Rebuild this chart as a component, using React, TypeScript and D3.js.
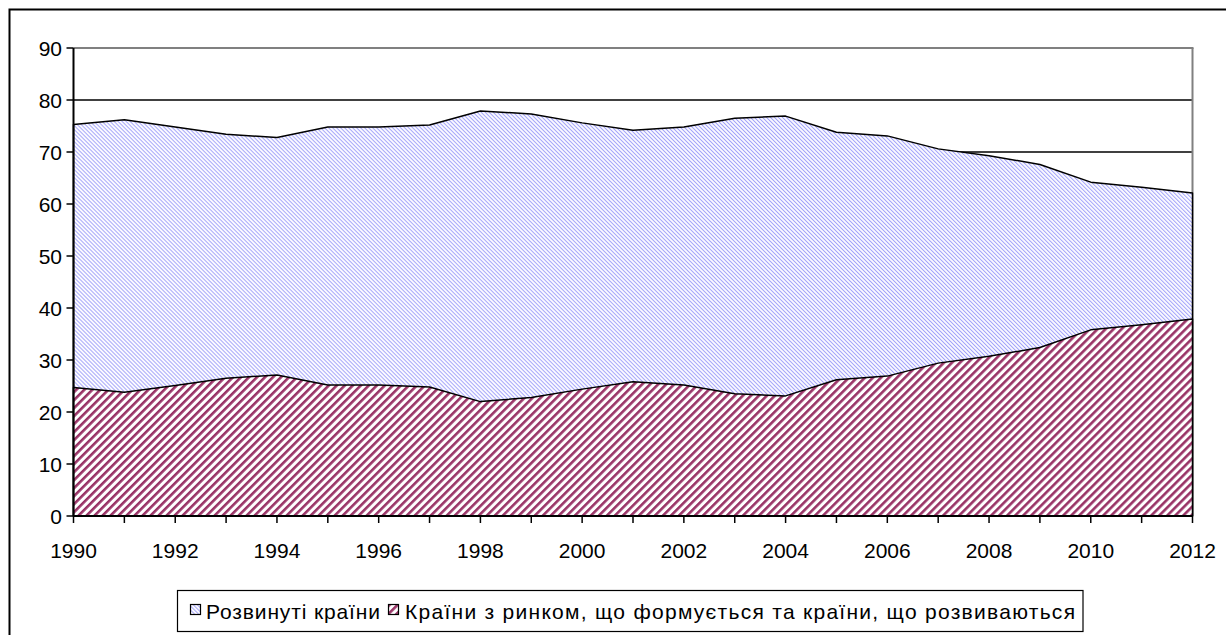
import React from "react";
import * as d3 from "d3";

const years = [1990, 1991, 1992, 1993, 1994, 1995, 1996, 1997, 1998, 1999, 2000, 2001, 2002, 2003, 2004, 2005, 2006, 2007, 2008, 2009, 2010, 2011, 2012];
const developed = [75.3, 76.2, 74.8, 73.4, 72.8, 74.8, 74.8, 75.2, 77.9, 77.3, 75.6, 74.2, 74.8, 76.5, 76.9, 73.8, 73.1, 70.6, 69.3, 67.6, 64.2, 63.2, 62.1];
const emerging = [24.7, 23.8, 25.1, 26.5, 27.1, 25.2, 25.2, 24.8, 22.0, 22.8, 24.4, 25.8, 25.2, 23.5, 23.1, 26.2, 26.9, 29.4, 30.7, 32.4, 35.8, 36.8, 37.9];
const yTicks = [0, 10, 20, 30, 40, 50, 60, 70, 80, 90];
const xTickLabels = [1990, 1992, 1994, 1996, 1998, 2000, 2002, 2004, 2006, 2008, 2010, 2012];
const seriesNames = ["Розвинуті країни", "Країни з ринком, що формується та країни, що розвиваються"];

const FONT = "'Liberation Sans', Arial, sans-serif";

export default function App() {
  const W = 1226, H = 635;
  const x = d3.scaleLinear().domain([1990, 2012]).range([73.5, 1192.5]);
  const y = d3.scaleLinear().domain([0, 90]).range([516, 48]);

  const devPath = d3.area<number>().x((_, i) => x(years[i])).y0(y(0)).y1((d) => y(d))(developed) as string;
  const emPath = d3.area<number>().x((_, i) => x(years[i])).y0(y(0)).y1((d) => y(d))(emerging) as string;

  return (
    <svg width={W} height={H} style={{ display: "block", position: "absolute", left: 0, top: 0, background: "#fff" }}>
      <defs>
        <pattern id="pDev" patternUnits="userSpaceOnUse" width={2.83} height={10} patternTransform="rotate(-45)">
          <rect width={2.83} height={10} fill="#fff" />
          <rect x={0} width={1.05} height={10} fill="#a4a4fa" />
        </pattern>
        <pattern id="pEm" patternUnits="userSpaceOnUse" width={5.66} height={10} patternTransform="rotate(45)">
          <rect width={5.66} height={10} fill="#fff" />
          <rect x={0} width={2.6} height={10} fill="#993366" />
        </pattern>
      </defs>
      <rect x={0} y={0} width={W} height={H} fill="#fff" />
      {/* outer chart border */}
      <rect x={9.5} y={9.5} width={1260} height={660} fill="none" stroke="#000" strokeWidth={2} />

      {/* gridlines */}
      {yTicks.filter((t) => t > 0 && t < 90).map((t) => (
        <line key={t} x1={x(1990)} x2={x(2012)} y1={y(t)} y2={y(t)} stroke="#000" strokeWidth={1.3} />
      ))}
      {/* plot area border top/right */}
      <line x1={x(1990)} x2={x(2012) + 1} y1={y(90)} y2={y(90)} stroke="#808080" strokeWidth={2} />
      <line x1={x(2012)} x2={x(2012)} y1={y(90)} y2={y(0)} stroke="#808080" strokeWidth={2} />

      {/* areas */}
      <path d={devPath} fill="url(#pDev)" stroke="#000" strokeWidth={1.5} strokeLinejoin="round" />
      <path d={emPath} fill="url(#pEm)" stroke="#000" strokeWidth={1.5} strokeLinejoin="round" />

      {/* y axis */}
      <line x1={x(1990)} x2={x(1990)} y1={y(90)} y2={y(0)} stroke="#000" strokeWidth={2} />
      {yTicks.map((t) => (
        <g key={t}>
          <line x1={x(1990) - 7} x2={x(1990)} y1={y(t)} y2={y(t)} stroke="#000" strokeWidth={1.5} />
          <text x={62} y={y(t)} dy="0.36em" textAnchor="end" fontFamily={FONT} fontSize={21} fill="#000">{t}</text>
        </g>
      ))}
      {/* x axis */}
      <line x1={x(1990)} x2={x(2012)} y1={y(0)} y2={y(0)} stroke="#000" strokeWidth={2} />
      {years.map((yr) => (
        <line key={yr} x1={x(yr)} x2={x(yr)} y1={y(0)} y2={y(0) + 7} stroke="#000" strokeWidth={1.5} />
      ))}
      {xTickLabels.map((yr) => (
        <text key={yr} x={x(yr)} y={558} textAnchor="middle" fontFamily={FONT} fontSize={21} fill="#000">{yr}</text>
      ))}

      {/* legend */}
      <rect x={177.5} y={590.5} width={905.5} height={41} fill="#fff" stroke="#000" strokeWidth={1.2} />
      <rect x={190.5} y={604.5} width={10} height={10} fill="url(#pDev)" stroke="#000" strokeWidth={1.2} />
      <text x={206} y={619} fontFamily={FONT} fontSize={21} fill="#000" textLength={174} lengthAdjust="spacing">{seriesNames[0]}</text>
      <rect x={388.5} y={604.5} width={10} height={10} fill="url(#pEm)" stroke="#000" strokeWidth={1.2} />
      <text x={405} y={619} fontFamily={FONT} fontSize={21} fill="#000" textLength={670} lengthAdjust="spacing">{seriesNames[1]}</text>
    </svg>
  );
}
